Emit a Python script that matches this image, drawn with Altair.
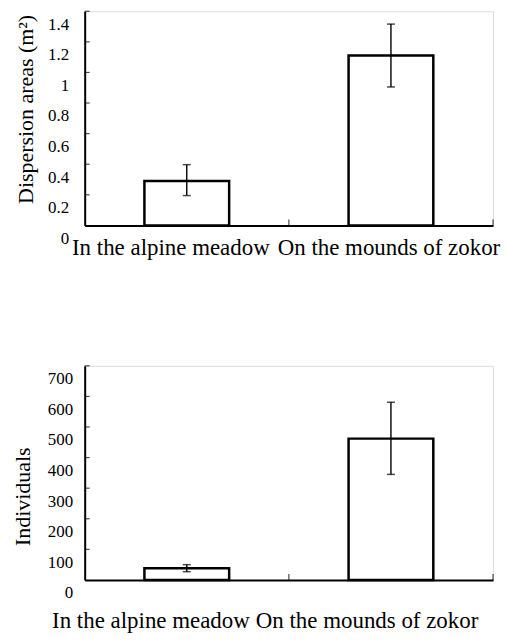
import altair as alt
import pandas as pd

categories = ["In the alpine meadow", "On the mounds of zokor"]
area_mean = [0.29, 1.11]
area_lo = [0.195, 0.905]
area_hi = [0.397, 1.316]
ind_mean = [38, 462]
ind_lo = [27, 345]
ind_hi = [50, 581]
area_ticks = [0, 0.2, 0.4, 0.6, 0.8, 1.0, 1.2, 1.4]
ind_ticks = [0, 100, 200, 300, 400, 500, 600, 700]

FONT = "Liberation Serif"
W, H = 410, 215


def panel(mean, lo, hi, ticks, fmt, title, ymax, ypad, titlex, titley, xpad, xoffs):
    df = pd.DataFrame({"cat": categories, "mean": mean, "lo": lo, "hi": hi})
    tdf = pd.DataFrame({"v": ticks[1:]})
    cdf = pd.DataFrame({"cat": categories})
    yscale = alt.Scale(domain=[0, ymax], nice=False, zero=True)
    yaxis = alt.Axis(
        values=ticks, format=fmt, ticks=False, grid=False,
        labelOffset=13, labelPadding=ypad, labelFontSize=17, labelFont=FONT,
        labelColor="black", domainColor="black", domainWidth=2,
        title=title, titleFont=FONT, titleFontSize=22, titleFontWeight="normal",
        titleColor="black", titleX=titlex, titleY=titley, titleBaseline="middle",
        titleAngle=270,
    )
    xscale = alt.Scale(domain=categories, paddingInner=0, paddingOuter=0)
    xaxis = alt.Axis(
        title=None, ticks=False, grid=False, labelAngle=0, labelOverlap=False,
        labelBound=False, labelFlush=False, labelLimit=0,
        labelFont=FONT, labelFontSize=23, labelColor="black",
        labelPadding=xpad, domainColor="black", domainWidth=2,
        labelOffset={"condition": {"test": "datum.value === 'In the alpine meadow'", "value": xoffs[0]}, "value": xoffs[1]},
    )
    x = alt.X("cat:N", scale=xscale, axis=xaxis, sort=categories)
    bars = alt.Chart(df).mark_bar(
        fill="white", stroke="black", strokeWidth=2.5, width={"band": 0.415}
    ).encode(x=x, y=alt.Y("mean:Q", scale=yscale, axis=yaxis))
    rule = alt.Chart(df).mark_rule(color="black", strokeWidth=1.4).encode(
        x=x, y=alt.Y("lo:Q", scale=yscale, axis=yaxis), y2="hi:Q"
    )
    cap_lo = alt.Chart(df).mark_tick(color="black", size=8, thickness=1.5, orient="horizontal").encode(
        x=x, y=alt.Y("lo:Q", scale=yscale, axis=yaxis)
    )
    cap_hi = alt.Chart(df).mark_tick(color="black", size=8, thickness=1.5, orient="horizontal").encode(
        x=x, y=alt.Y("hi:Q", scale=yscale, axis=yaxis)
    )
    yt = alt.Chart(tdf).mark_tick(color="black", size=5, thickness=1.2, orient="horizontal").encode(
        y=alt.Y("v:Q", scale=yscale, axis=yaxis), x=alt.value(2.5)
    )
    xt = alt.Chart(cdf).mark_tick(color="black", size=6, thickness=1.2, orient="vertical").encode(
        x=alt.X("cat:N", scale=xscale, axis=xaxis, sort=categories, bandPosition=1),
        y=alt.value(H - 3),
    )
    return alt.layer(bars, rule, cap_lo, cap_hi, yt, xt).properties(width=W, height=H)


top = panel(area_mean, area_lo, area_hi, area_ticks, "~g", "Dispersion areas (m²)", 1.4,
            16, -59, 98, 11, [-16, -2])
bottom = panel(ind_mean, ind_lo, ind_hi, ind_ticks, "d", "Individuals", 700,
               12, -62, 131, 30, [-36, -24])

chart = alt.vconcat(top, bottom, spacing=104).properties(
    padding={"left": 3, "top": 0, "right": 0, "bottom": 0}
).configure_view(stroke=None).configure(background="white", font=FONT).configure_axis(
    labelFont=FONT, titleFont=FONT
)

chart.save("out.html", embed_options={"renderer": "svg", "actions": False})
